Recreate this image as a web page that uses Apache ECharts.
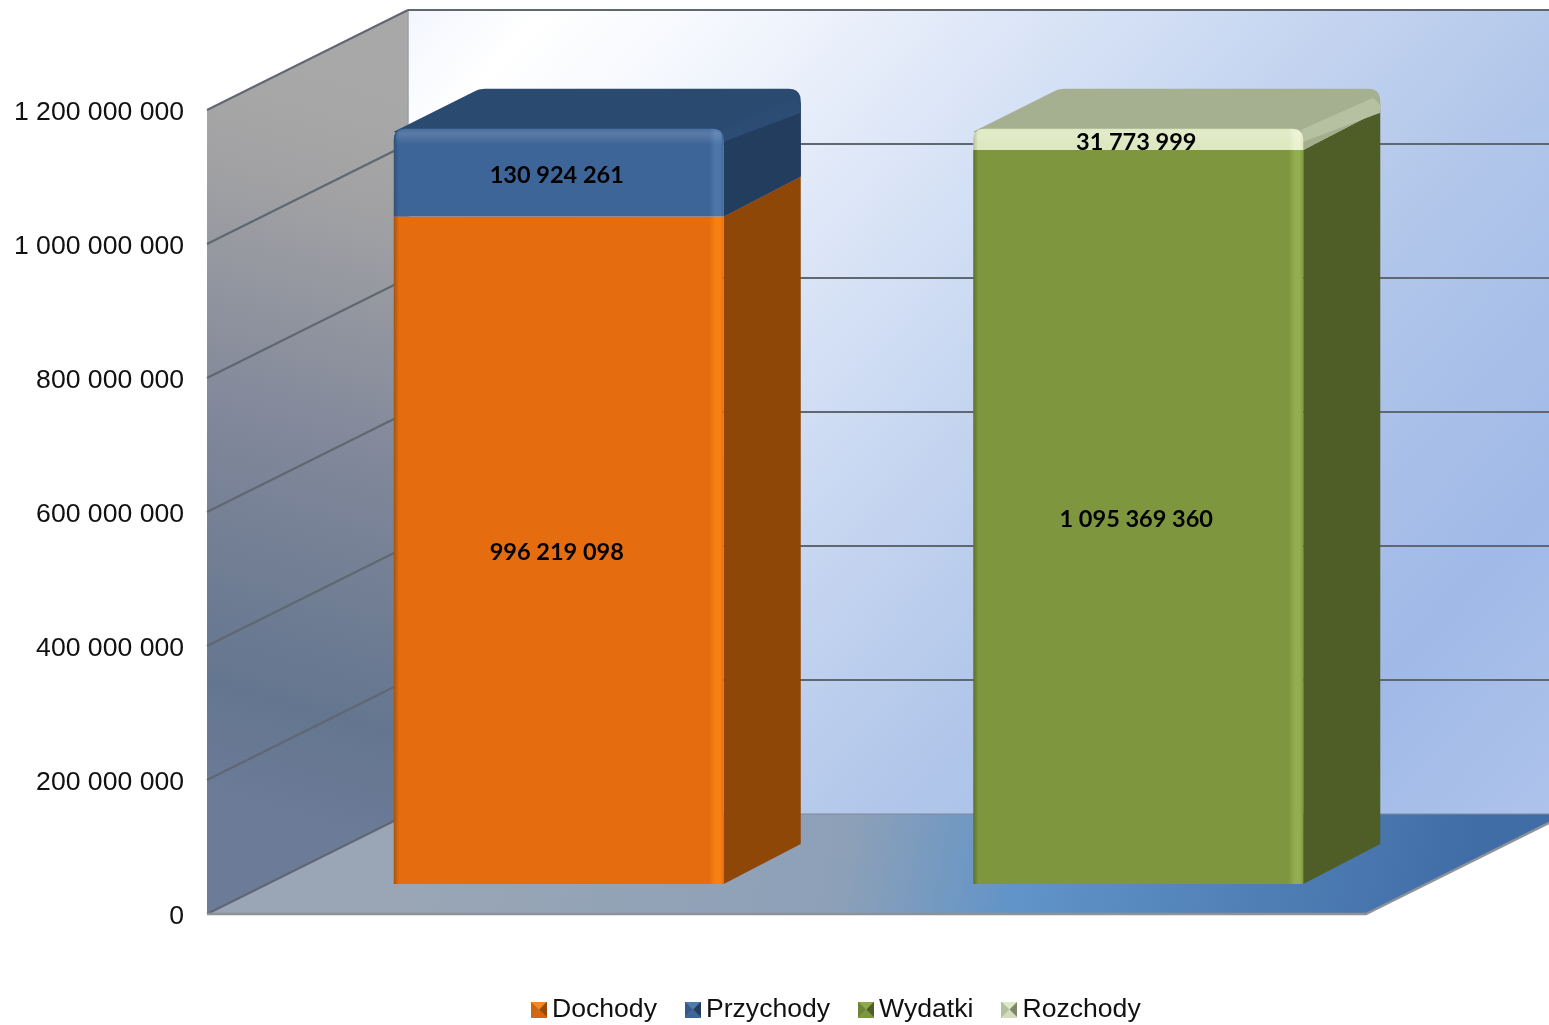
<!DOCTYPE html>
<html lang="pl">
<head>
<meta charset="utf-8">
<title>Dochody, przychody, wydatki, rozchody</title>
<style>html,body{margin:0;padding:0;background:#fff}#c{width:1549px;height:1025px}</style>
<script src="https://cdn.jsdelivr.net/npm/echarts@6/dist/echarts.min.js"></script>
</head>
<body>
<div id="c"></div>
<script>
const categories = ['Dochody i przychody', 'Wydatki i rozchody'];
const dochody = [996219098, null];
const przychody = [130924261, null];
const wydatki = [null, 1095369360];
const rozchody = [null, 31773999];
const yTicks = [0, 200000000, 400000000, 600000000, 800000000, 1000000000, 1200000000];

const fmt = v => String(v).replace(/\B(?=(\d{3})+(?!\d))/g, ' ');
const WALL = [201, -100], BAR = [77, -40], SHIFT = [62, -30];
const palettes = {
  Dochody:   {front:'#e56c0f', dark:'#a35412', light:'#f87f12', side:'#8f4708', top:'#8f4708', band:'#8f4708', icon:['#f0892a','#9a4a08','#d8650e','#c9660f']},
  Przychody: {front:'#3e6598', dark:'#2f5078', light:'#4c76aa', side:'#233d5f', top:'#2a4a70', band:'#2c4c74', icon:['#4f7aae','#233d5f','#3e6598','#36598a']},
  Wydatki:   {front:'#7e973e', dark:'#5c7130', light:'#94ad50', side:'#4e5e26', top:'#4e5e26', band:'#4e5e26', icon:['#8fa84c','#4e5e26','#7e973e','#6c8436']},
  Rozchody:  {front:'#dde8c0', dark:'#b8c4a0', light:'#eaf2d0', side:'#a2ae8c', top:'#a4b08f', band:'#b6c1a1', icon:['#dfe9c3','#7d876c','#d3dcbe','#b4bfa0']}
};

function roundPoly(pts, radii) {
  const out = [], n = pts.length;
  for (let i = 0; i < n; i++) {
    const r = radii[i] || 0, p = pts[i];
    if (!r) { out.push(p); continue; }
    const a = pts[(i + n - 1) % n], b = pts[(i + 1) % n];
    const la = Math.hypot(a[0]-p[0], a[1]-p[1]), lb = Math.hypot(b[0]-p[0], b[1]-p[1]);
    const s = [p[0]+(a[0]-p[0])*r/la, p[1]+(a[1]-p[1])*r/la];
    const e = [p[0]+(b[0]-p[0])*r/lb, p[1]+(b[1]-p[1])*r/lb];
    for (let t = 0; t <= 1.001; t += 0.2) {
      const u = 1 - t;
      out.push([u*u*s[0]+2*u*t*p[0]+t*t*e[0], u*u*s[1]+2*u*t*p[1]+t*t*e[1]]);
    }
  }
  return out;
}
const poly = (points, fill, extra) => Object.assign({type:'polygon', shape:{points}, style:{fill}, silent:true}, extra || {});

function renderWalls(params, api) {
  const cs = params.coordSys;
  const x0 = cs.x, x1 = cs.x + cs.width, yT = api.coord([0, 1200000000])[1], yB = api.coord([0, 0])[1];
  const [dx, dy] = WALL;
  const g = (x, y, x2, y2, stops) => ({type:'linear', global:true, x, y, x2, y2,
    colorStops: stops.map(s => ({offset:s[0], color:s[1]}))});
  return {type:'group', children:[
    poly([[x0+dx,yT+dy],[x1+dx,yT+dy],[x1+dx,yB+dy],[x0+dx,yB+dy]],
      g(420,0,1476,960,[[0,'#f3f6fd'],[0.07,'#ffffff'],[0.17,'#f4f7fd'],[0.37,'#d4e0f5'],[0.61,'#b2c7ea'],[0.82,'#a0b9e7'],[1,'#b0c5ec']])),
    poly([[x0,yT],[x0+dx,yT+dy],[x0+dx,yB+dy],[x0,yB]],
      g(400,100,200,790,[[0,'#a8a8a8'],[0.15,'#a2a2a4'],[0.5,'#80879a'],[0.85,'#64768f'],[1,'#6c7b98']])),
    poly([[x0,yB],[x1,yB],[x1+dx,yB+dy],[x0+dx,yB+dy]],
      g(420,760,1450,960,[[0,'#9aa6b5'],[0.42,'#8ca0b8'],[0.58,'#6194c8'],[1,'#416da6']])),
    {type:'line', shape:{x1:x0+dx,y1:yT+dy,x2:x0+dx,y2:yB+dy}, style:{stroke:'#9ba0a6', lineWidth:1.5}, silent:true}
  ]};
}

function renderGrid(params, api) {
  const cs = params.coordSys, x0 = cs.x, x1 = cs.x + cs.width, v = api.value(1), y = api.coord([0, v])[1];
  const [dx, dy] = WALL;
  return {type:'group', children:[
    {type:'line', shape:{x1:x0,y1:y,x2:x0+dx,y2:y+dy}, style:{stroke:'#5f6770', lineWidth:2}, silent:true},
    {type:'line', shape:{x1:x0+dx,y1:y+dy,x2:x1+dx,y2:y+dy}, style:{stroke:v === 0 ? '#7d8a9c' : '#5f6770', lineWidth:v === 0 ? 1.2 : 2}, silent:true}
  ]};
}

function renderFloorEdge(params, api) {
  const cs = params.coordSys, x0 = cs.x, x1 = cs.x + cs.width, y = api.coord([0, 0])[1];
  return {type:'polyline', shape:{points:[[x0,y],[x1,y],[x1+WALL[0],y+WALL[1]]]},
    style:{stroke:'#8d9298', lineWidth:2.5, fill:null}, silent:true};
}

function renderSegment(params, api) {
  const name = params.seriesName, pal = palettes[name], isTop = api.value(3) === 1;
  const c0 = api.coord([api.value(0), api.value(1)]);
  const c1 = api.coord([api.value(0), api.value(1) + api.value(2)]);
  const w = api.size([1, 0])[0] * 0.5695;
  const cx = c0[0] + SHIFT[0], xL = cx - w / 2, xR = cx + w / 2;
  const yB = c0[1] + SHIFT[1], yT = c1[1] + SHIFT[1];
  const [dx, dy] = BAR;
  const frontFill = {type:'linear', x:0, y:0, x2:1, y2:0, colorStops:[
    {offset:0, color:pal.dark},{offset:0.016, color:pal.front},
    {offset:0.955, color:pal.front},{offset:0.975, color:pal.light},{offset:0.99, color:pal.light},{offset:1, color:pal.front}]};
  const ch = [];
  if (isTop) {
    ch.push(poly(roundPoly([[xL,yT+3],[xL+86,yT+dy],[xR+dx,yT+dy],[xR+dx,yB+dy],[xR,yB],[xR,yT+8],[xL+12,yT+8]],[0,5,12,0,0,0,0]), pal.top));
    ch.push(poly([[xR,yB],[xR+dx,yB+dy],[xR+dx,yT+dy+14],[xR,yT+2]], pal.side));
    ch.push(poly([[xR-2,yT+1],[xR+dx-7,yT+dy+9],[xR+dx,yT+dy+16],[xR+dx,yT+dy+24],[xR,yT+13]], pal.band));
    ch.push(poly(roundPoly([[xL,yB],[xL,yT],[xR,yT],[xR,yB]],[0,11,11,0]), frontFill));
    ch.push(poly(roundPoly([[xL+2,yT+16],[xL+2,yT],[xR-2,yT],[xR-2,yT+16]],[0,10,10,0]),
      {type:'linear', x:0, y:0, x2:0, y2:1, colorStops:[{offset:0,color:'rgba(255,255,255,0.06)'},{offset:0.3,color:'rgba(255,255,255,0.14)'},{offset:1,color:'rgba(255,255,255,0)'}]}));
  } else {
    ch.push(poly([[xR,yB],[xR+dx,yB+dy],[xR+dx,yT+dy],[xR,yT]], pal.side));
    ch.push(poly([[xL,yB],[xL,yT],[xR,yT],[xR,yB]], frontFill));
  }
  ch.push({type:'text', silent:true, style:{x:cx-2, y:(yT+yB)/2+2.5, text:fmt(api.value(2)),
    fill:'#000', font:'bold 23.5px Lato', align:'center', verticalAlign:'middle'}});
  return {type:'group', children:ch};
}

function pyramid(p) {
  const s = 48, cv = document.createElement('canvas'); cv.width = cv.height = s;
  const c = cv.getContext('2d'), m = s / 2, t = [[0,0,s,0],[s,0,s,s],[s,s,0,s],[0,s,0,0]];
  t.forEach((q, i) => { c.fillStyle = p[i]; c.beginPath(); c.moveTo(q[0],q[1]); c.lineTo(q[2],q[3]); c.lineTo(m,m); c.closePath(); c.fill(); });
  return 'image://' + cv.toDataURL();
}

function segments(values, bases, topFlag) {
  return values.map((v, i) => v == null ? null : [i, bases ? bases[i] : 0, v, topFlag]).filter(Boolean);
}
const dims = {x:0, y:1};
const seriesOf = (name, data) => ({type:'custom', name, renderItem:renderSegment, data, encode:dims, z:5});

const chart = echarts.init(document.getElementById('c'), null, {renderer:'canvas'});
chart.setOption({
  animation:false,
  backgroundColor:'#ffffff',
  textStyle:{fontFamily:'Liberation Sans'},
  grid:{left:207, top:110, width:1159, height:804, containLabel:false},
  xAxis:{type:'category', data:categories, axisLine:{show:false}, axisTick:{show:false}, axisLabel:{show:false}, splitLine:{show:false}},
  yAxis:{type:'value', min:0, max:1200000000, interval:200000000,
    axisLine:{show:false}, axisTick:{show:false}, splitLine:{show:false},
    axisLabel:{margin:23, fontSize:26.6, color:'#111', fontFamily:'Liberation Sans', formatter:fmt, verticalAlign:'top', padding:[-11,0,0,0]}},
  legend:{left:526, top:991, itemWidth:16, itemHeight:16, itemGap:28, selectedMode:false,
    textStyle:{fontSize:26.6, color:'#111', fontFamily:'Liberation Sans'},
    data:Object.keys(palettes).map(n => ({name:n, icon:pyramid(palettes[n].icon)}))},
  series:[
    {type:'custom', name:'tło', renderItem:renderWalls, data:[[0,0]], encode:dims, z:1, silent:true},
    {type:'custom', name:'siatka', renderItem:renderGrid, data:yTicks.map(v => [0,v]), encode:dims, z:2, silent:true},
    {type:'custom', name:'krawędź', renderItem:renderFloorEdge, data:[[0,0]], encode:dims, z:3, silent:true},
    seriesOf('Dochody', segments(dochody, null, 0)),
    seriesOf('Przychody', segments(przychody, dochody, 1)),
    seriesOf('Wydatki', segments(wydatki, null, 0)),
    seriesOf('Rozchody', segments(rozchody, wydatki, 1))
  ]
});
</script>
</body>
</html>
